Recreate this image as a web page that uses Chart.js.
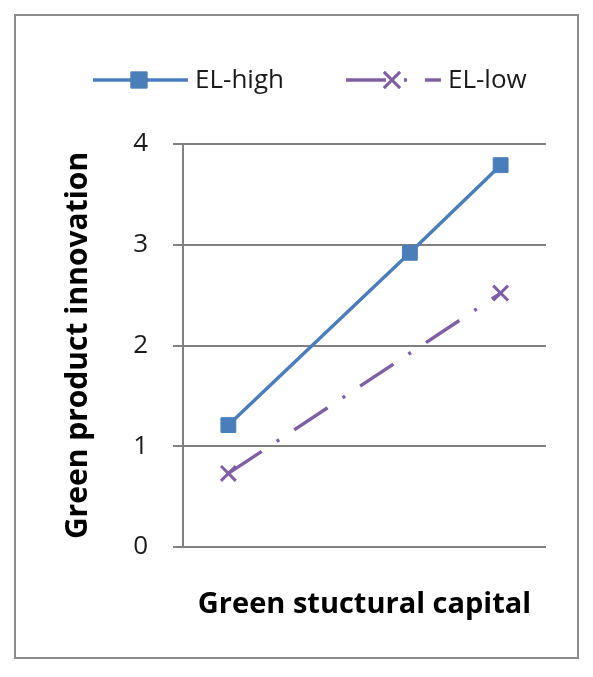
<!DOCTYPE html>
<html>
<head>
<meta charset="utf-8">
<script src="https://cdn.jsdelivr.net/npm/chart.js@4.4.1/dist/chart.umd.min.js"></script>
<style>
  body { margin: 0; background: #fff; }
  #wrap { position: relative; width: 593px; height: 677px; }
  #frame { position: absolute; left: 14px; top: 14px; width: 565px; height: 645px; border: 2px solid #8c8c8c; box-sizing: border-box; }
  #chart { position: absolute; left: 0; top: 0; }
</style>
</head>
<body>
<div id="wrap">
  <div id="frame"></div>
  <canvas id="chart" width="593" height="677"></canvas>
</div>
<script>
// four evenly spaced x positions, the second one has no observation
const categories = ['1', '2', '3', '4'];
const elHigh = [1.21, null, 2.92, 3.79];
const elLow = [0.73, null, null, 2.52];
const yTicks = [0, 1, 2, 3, 4];

const BLUE = '#4a7ebb';
const PURPLE = '#7f5fa3';
const GRID = '#808080';
const FONT = '"Open Sans", "DejaVu Sans", sans-serif';

// legend drawn as line + marker + label, like the office style legend
const lineLegend = {
  id: 'lineLegend',
  afterDraw(chart) {
    const ctx = chart.ctx;
    let x = 93;
    const y = 80;
    ctx.save();
    ctx.font = '26px ' + FONT;
    ctx.textBaseline = 'middle';
    chart.data.datasets.forEach(ds => {
      ctx.strokeStyle = ds.borderColor;
      ctx.fillStyle = ds.backgroundColor;
      ctx.lineWidth = ds.borderWidth;
      ctx.setLineDash(ds.borderDash || []);
      ctx.beginPath();
      ctx.moveTo(x, y);
      ctx.lineTo(x + 95, y);
      ctx.stroke();
      ctx.setLineDash([]);
      ctx.lineWidth = ds.pointBorderWidth;
      Chart.helpers.drawPoint(ctx, {
        pointStyle: ds.pointStyle,
        rotation: 0,
        radius: ds.pointRadius + 1,
        borderWidth: ds.pointBorderWidth
      }, x + 46, y);
      ctx.fillStyle = '#1a1a1a';
      ctx.fillText(ds.label, x + 102, y + 1);
      x += 102 + ctx.measureText(ds.label).width + 62;
    });
    ctx.restore();
  }
};

new Chart(document.getElementById('chart'), {
  type: 'line',
  data: {
    labels: categories,
    datasets: [
      {
        label: 'EL-high',
        data: elHigh,
        borderColor: BLUE,
        backgroundColor: BLUE,
        borderWidth: 3.4,
        pointStyle: 'rect',
        pointRadius: 10.5,
        pointBorderWidth: 1,
        spanGaps: true
      },
      {
        label: 'EL-low',
        data: elLow,
        borderColor: PURPLE,
        backgroundColor: PURPLE,
        borderWidth: 3.4,
        borderDash: [40, 18, 3, 18],
        pointStyle: 'crossRot',
        pointRadius: 10.5,
        pointBorderWidth: 3,
        spanGaps: true
      }
    ]
  },
  options: {
    responsive: false,
    animation: false,
    layout: { padding: { top: 144, right: 47, bottom: 0, left: 0 } },
    plugins: {
      legend: { display: false },
      tooltip: { enabled: false }
    },
    scales: {
      x: {
        offset: true,
        grid: { display: false },
        border: { display: false },
        ticks: { display: false },
        afterFit: s => { s.height = 130; },
        title: {
          display: true,
          text: 'Green stuctural capital',
          color: '#000',
          font: { family: FONT, size: 29, weight: 'bold' },
          padding: { top: 0, bottom: 55 }
        }
      },
      y: {
        min: 0,
        max: 4,
        afterBuildTicks: s => { s.ticks = yTicks.map(v => ({ value: v })); },
        afterFit: s => { s.width = 183; },
        grid: { color: GRID, lineWidth: 2, tickLength: 10, drawTicks: true },
        border: { display: true, color: GRID, width: 2 },
        ticks: {
          padding: 25,
          color: '#1a1a1a',
          font: { family: FONT, size: 26 }
        },
        title: {
          display: true,
          text: 'Green product innovation',
          color: '#000',
          font: { family: FONT, size: 30, weight: 'bold' },
          padding: { top: 60, bottom: 0 }
        }
      }
    }
  },
  plugins: [lineLegend]
});
</script>
</body>
</html>
